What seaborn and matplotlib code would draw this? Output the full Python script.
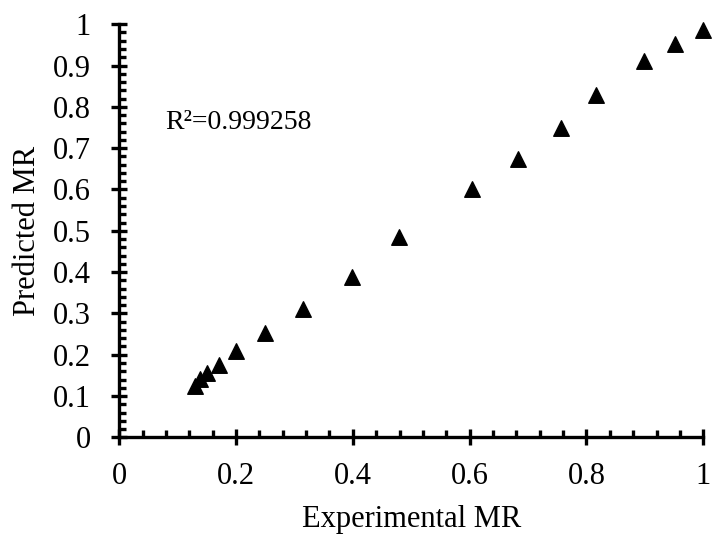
import numpy as np
import pandas as pd
import seaborn as sns
import matplotlib.pyplot as plt
from matplotlib.ticker import MultipleLocator, FuncFormatter

experimental = [1.0, 0.951, 0.898, 0.817, 0.756, 0.683, 0.604, 0.479, 0.398,
                0.314, 0.249, 0.200, 0.170, 0.150, 0.139, 0.129]
predicted = [0.987, 0.953, 0.911, 0.828, 0.748, 0.673, 0.601, 0.484, 0.387,
             0.311, 0.253, 0.210, 0.176, 0.155, 0.142, 0.124]
r2_text = "R\u00b2=0.999258"

df = pd.DataFrame({"Experimental MR": experimental, "Predicted MR": predicted})

sns.set_theme(style="ticks")
plt.rcParams['font.family'] = ['Liberation Serif', 'DejaVu Serif']

fig = plt.figure(figsize=(7.14, 5.38), dpi=100)
ax = fig.add_axes([0.167, 0.187, 0.818, 0.768])

sns.scatterplot(data=df, x="Experimental MR", y="Predicted MR", ax=ax,
                marker="^", s=125, color="black", edgecolor="black",
                linewidth=1, clip_on=False, zorder=3)

ax.set_xlim(0, 1)
ax.set_ylim(0, 1)
ax.xaxis.set_major_locator(MultipleLocator(0.2))
ax.xaxis.set_minor_locator(MultipleLocator(0.04))
ax.yaxis.set_major_locator(MultipleLocator(0.1))
ax.yaxis.set_minor_locator(MultipleLocator(0.02))
fmt = FuncFormatter(lambda v, p: f"{v:.10g}")
ax.xaxis.set_major_formatter(fmt)
ax.yaxis.set_major_formatter(fmt)

sns.despine(ax=ax)
for side in ['left', 'bottom']:
    ax.spines[side].set_linewidth(2.4)
    ax.spines[side].set_color('black')

ax.tick_params(which='major', direction='inout', length=11, width=2.4,
               labelsize=22, color='black', labelcolor='black')
ax.tick_params(axis='x', which='major', pad=12)
ax.tick_params(axis='y', which='major', pad=15)
ax.tick_params(which='minor', direction='in', length=5, width=2.4,
               color='black')

ax.set_xlabel("Experimental MR", fontsize=22, color='black', labelpad=10)
ax.set_ylabel("Predicted MR", fontsize=22, color='black', labelpad=8)

ax.text(0.078, 0.763, r2_text, fontsize=20, ha='left', va='center',
        color='black')

fig.savefig("out.png", dpi=100)
